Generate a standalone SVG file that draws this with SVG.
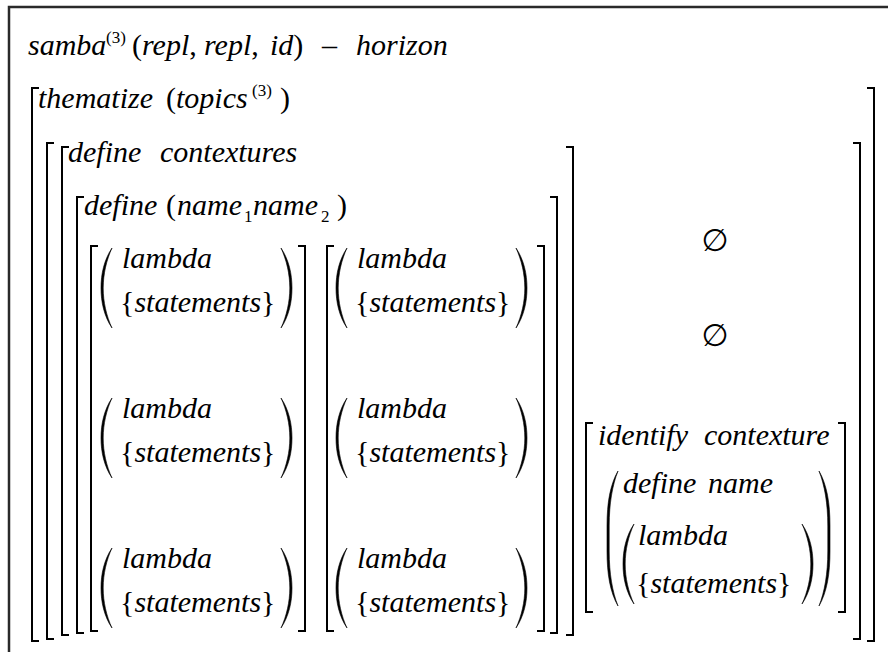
<svg xmlns="http://www.w3.org/2000/svg" xmlns:xlink="http://www.w3.org/1999/xlink" width="888" height="652" viewBox="0 0 888 652">
<style>
.t{font-family:'Liberation Serif','Times New Roman',serif;font-size:30px;font-style:italic;fill:#000}
.r{font-style:normal}
.s{font-size:17px;font-style:normal}
.br{fill:none;stroke:#000;stroke-width:2}
.pa{fill:#000;stroke:#000;stroke-width:0.6}
.frame{fill:none;stroke:#2a2a2a;stroke-width:2.5}
.es{font-family:'DejaVu Sans',sans-serif;font-size:31px;fill:#000;text-anchor:middle}
</style>
<defs>
<path id="lp80" class="pa" d="M11,0 C3,12 0,26 0,40 C0,54 3,68 11,80 C5.5,68 2.2,54 2.2,40 C2.2,26 5.5,12 11,0 Z"/>
<path id="rp80" class="pa" d="M0,0 C8,12 11,26 11,40 C11,54 8,68 0,80 C5.5,68 8.8,54 8.8,40 C8.8,26 5.5,12 0,0 Z"/>
<path id="lp135" class="pa" d="M11,0 C3,14 0,32 0,55 V80 C0,103 3,121 11,135 C5.5,121 2.2,103 2.2,80 V55 C2.2,32 5.5,14 11,0 Z"/>
<path id="rp135" class="pa" d="M0,0 C8,14 11,32 11,55 V80 C11,103 8,121 0,135 C5.5,121 8.8,103 8.8,80 V55 C8.8,32 5.5,14 0,0 Z"/>
<g id="lam">
<use xlink:href="#lp80" x="0" y="0"/>
<text class="t" x="21" y="20">lambda</text>
<text class="t" x="19" y="64"><tspan class="r">{</tspan>statements<tspan class="r">}</tspan></text>
<use xlink:href="#rp80" x="180" y="0"/>
</g>
</defs>
<path class="frame" d="M9,652 V7 H888"/>
<g id="header">
<text class="t" x="28" y="55">samba<tspan class="s" x="106" y="43">(3)</tspan><tspan class="r" x="132" y="55">(</tspan>repl<tspan class="r">,</tspan><tspan x="204">repl</tspan><tspan class="r">,</tspan><tspan x="270">id</tspan><tspan class="r">)</tspan><tspan class="r" x="322">–</tspan><tspan x="356">horizon</tspan></text>
</g>
<g id="thematize">
<path class="br" d="M39,88 H32 V641 H39"/>
<path class="br" d="M867,88 H874 V641 H867"/>
<text class="t" x="38" y="108">thematize<tspan class="r" x="166">(</tspan>topics<tspan class="s" x="252" y="96">(3)</tspan><tspan class="r" x="280" y="108">)</tspan></text>
</g>
<g id="matrix">
<path class="br" d="M54,143 H47 V639 H54"/>
<path class="br" d="M853,143 H860 V639 H853"/>
</g>
<g id="contextures">
<path class="br" d="M69,147 H62 V635 H69"/>
<path class="br" d="M566,147 H573 V635 H566"/>
<text class="t" x="68" y="162">define<tspan x="160">contextures</tspan></text>
</g>
<g id="define-names">
<path class="br" d="M84,197 H77 V633 H84"/>
<path class="br" d="M550,197 H557 V633 H550"/>
<text class="t" x="84" y="215">define<tspan class="r" x="166">(</tspan><tspan x="177">name</tspan><tspan class="s" x="244" y="222">1</tspan><tspan x="253" y="215">name</tspan><tspan class="s" x="321" y="222">2</tspan><tspan class="r" x="337" y="215">)</tspan></text>
</g>
<g id="column1">
<path class="br" d="M98,246 H91 V631 H98"/>
<path class="br" d="M298,246 H305 V631 H298"/>
<use xlink:href="#lam" x="101" y="248"/>
<use xlink:href="#lam" x="101" y="398"/>
<use xlink:href="#lam" x="101" y="548"/>
</g>
<g id="column2">
<path class="br" d="M334,246 H327 V631 H334"/>
<path class="br" d="M537,246 H544 V631 H537"/>
<use xlink:href="#lam" x="336" y="248"/>
<use xlink:href="#lam" x="336" y="398"/>
<use xlink:href="#lam" x="336" y="548"/>
</g>
<g id="empty1"><text class="es" x="715" y="251">∅</text></g>
<g id="empty2"><text class="es" x="715" y="346">∅</text></g>
<g id="identify">
<path class="br" d="M593,423 H586 V612 H593"/>
<path class="br" d="M838,423 H845 V612 H838"/>
<text class="t" x="598" y="445">identify<tspan x="704">contexture</tspan></text>
<use xlink:href="#lp135" x="607" y="471"/>
<text class="t" x="623" y="493">define<tspan x="708">name</tspan></text>
<use xlink:href="#lp80" x="623" y="524"/>
<text class="t" x="638" y="545">lambda</text>
<text class="t" x="636" y="593"><tspan class="r">{</tspan>statements<tspan class="r">}</tspan></text>
<use xlink:href="#rp80" x="802" y="524"/>
<use xlink:href="#rp135" x="819" y="471"/>
</g>
<g id="connectors"/>
</svg>
